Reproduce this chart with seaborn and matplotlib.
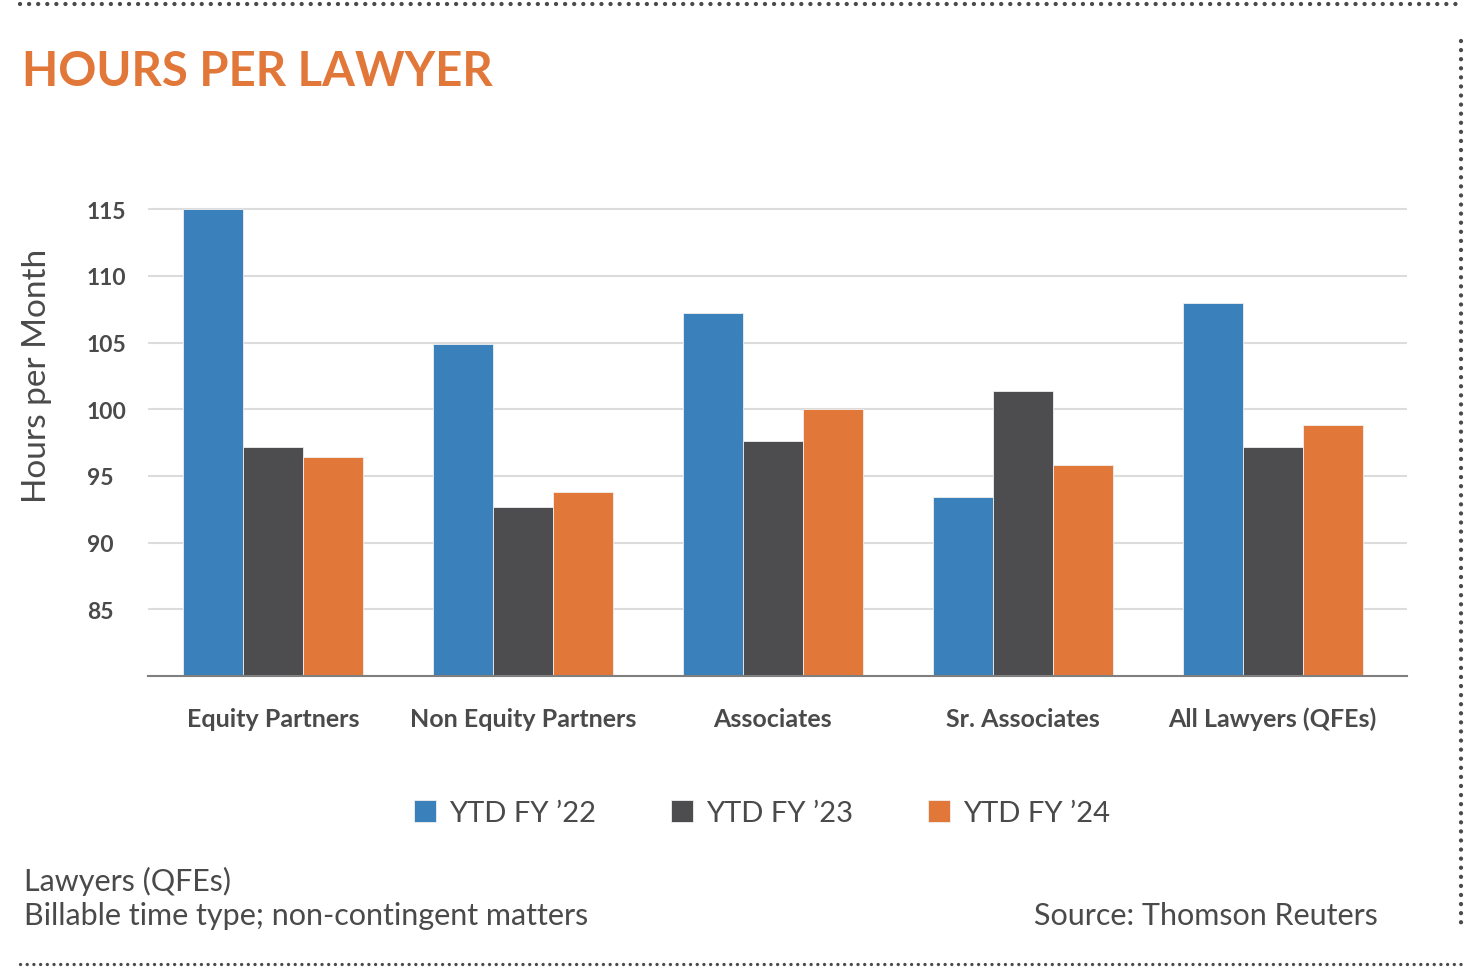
import pandas as pd
import seaborn as sns
import matplotlib.pyplot as plt
from matplotlib.lines import Line2D

# chart data
categories = ["Equity Partners", "Non Equity Partners", "Associates", "Sr. Associates", "All Lawyers (QFEs)"]
series = ["YTD FY \u201922", "YTD FY \u201923", "YTD FY \u201924"]
fy22 = [115.0, 104.9, 107.2, 93.4, 108.0]
fy23 = [97.2, 92.7, 97.6, 101.4, 97.2]
fy24 = [96.4, 93.8, 100.0, 95.8, 98.8]
yticks = [85, 90, 95, 100, 105, 110, 115]

colors = ["#3a80ba", "#4d4d4f", "#e2773a"]
text_grey = "#4a4a4a"

df = pd.DataFrame({
    "category": categories * 3,
    "series": [series[0]] * 5 + [series[1]] * 5 + [series[2]] * 5,
    "hours": fy22 + fy23 + fy24,
})

sns.set_theme(style="white")
plt.rcParams["font.family"] = ["Lato", "DejaVu Sans"]

fig = plt.figure(figsize=(14.64, 9.70), dpi=100)
ax = fig.add_axes([148 / 1464, 293 / 970, 1259 / 1464, 480 / 970])

sns.barplot(data=df, x="category", y="hours", hue="series", palette=colors, saturation=1,
            width=0.72, ax=ax, edgecolor="#f0f0f0", linewidth=0.6, legend=True)

ax.set_ylim(80, 116)
ax.set_xlim(-0.5, 4.538)
ax.set_yticks(yticks)
ax.yaxis.grid(True, color="#dcdcdc", linewidth=1.5)
ax.set_axisbelow(True)
for s in ["top", "right", "left"]:
    ax.spines[s].set_visible(False)
ax.spines["bottom"].set_color("#7f7f7f")
ax.spines["bottom"].set_linewidth(1.5)

ax.tick_params(axis="x", length=0, pad=22, labelsize=18, labelcolor=text_grey)
ax.tick_params(axis="y", length=0, pad=44, labelsize=16.5, labelcolor=text_grey)
for lab in ax.get_xticklabels():
    lab.set_fontweight("bold")
for lab in ax.get_yticklabels():
    lab.set_fontweight("bold")
    lab.set_horizontalalignment("left")

ax.set_xlabel("")
ax.set_ylabel("Hours per Month", fontsize=24, color=text_grey)
ax.yaxis.set_label_coords(-0.0763, 0.627)

handles, labels = ax.get_legend_handles_labels()
ax.get_legend().remove()
fig.legend(handles, labels, loc="center", bbox_to_anchor=(762 / 1464, 1 - 814 / 970),
           ncol=3, frameon=False, fontsize=21, labelcolor=text_grey,
           handlelength=0.75, handleheight=0.75, handletextpad=0.42, columnspacing=2.6)

# title and notes
fig.text(22 / 1464, 1 - 72 / 970, "HOURS PER LAWYER", fontsize=34, fontweight="bold",
         color="#e2773a", va="center", ha="left")
fig.text(24 / 1464, 1 - 881 / 970, "Lawyers (QFEs)", fontsize=22, color=text_grey, va="center")
fig.text(24 / 1464, 1 - 916 / 970, "Billable time type; non-contingent matters", fontsize=22,
         color=text_grey, va="center")
fig.text(1378 / 1464, 1 - 916 / 970, "Source: Thomson Reuters", fontsize=22,
         color=text_grey, va="center", ha="right")

# dotted frame
dot = dict(color="#4a4a4a", linestyle=(0, (0.01, 2.1)), linewidth=3.1,
           dash_capstyle="round", transform=fig.transFigure)
fig.add_artist(Line2D([20 / 1464, 1458 / 1464], [1 - 5 / 970, 1 - 5 / 970], **dot))
fig.add_artist(Line2D([1461 / 1464, 1461 / 1464], [1 - 42 / 970, 1 - 925 / 970], **dot))
fig.add_artist(Line2D([20 / 1464, 1464 / 1464], [1 - 965 / 970, 1 - 965 / 970],
                      color="#4a4a4a", linestyle=(0, (0.01, 2.0)), linewidth=2.4,
                      dash_capstyle="round", transform=fig.transFigure))

plt.savefig("out.png", dpi=100)
